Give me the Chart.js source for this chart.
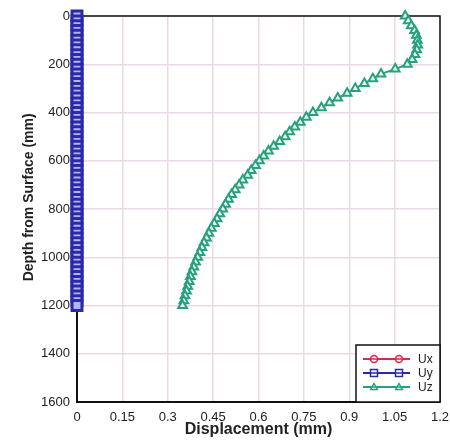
<!DOCTYPE html>
<html><head><meta charset="utf-8">
<script src="https://cdn.jsdelivr.net/npm/chart.js@4/dist/chart.umd.min.js"></script>
<style>html,body{margin:0;padding:0;background:#fff}#wrap{width:450px;height:444px;position:relative}</style>
</head><body><div id="wrap"><canvas id="c" width="450" height="444"></canvas></div>
<script>
const depths = [0,20,40,60,80,100,120,140,160,180,200,220,240,260,280,300,320,340,360,380,400,420,440,460,480,500,520,540,560,580,600,620,640,660,680,700,720,740,760,780,800,820,840,860,880,900,920,940,960,980,1000,1020,1040,1060,1080,1100,1120,1140,1160,1180,1200];
const uxValues = [0,0,0,0,0,0,0,0,0,0,0,0,0,0,0,0,0,0,0,0,0,0,0,0,0,0,0,0,0,0,0,0,0,0,0,0,0,0,0,0,0,0,0,0,0,0,0,0,0,0,0,0,0,0,0,0,0,0,0,0,0];
const uyValues = [0,0,0,0,0,0,0,0,0,0,0,0,0,0,0,0,0,0,0,0,0,0,0,0,0,0,0,0,0,0,0,0,0,0,0,0,0,0,0,0,0,0,0,0,0,0,0,0,0,0,0,0,0,0,0,0,0,0,0,0,0];
const uzValues = [1.085,1.095,1.105,1.116,1.122,1.125,1.126,1.123,1.117,1.108,1.092,1.052,1.005,0.978,0.950,0.920,0.893,0.862,0.835,0.808,0.780,0.758,0.738,0.720,0.703,0.688,0.670,0.650,0.633,0.617,0.603,0.590,0.576,0.564,0.548,0.536,0.523,0.511,0.501,0.491,0.482,0.472,0.463,0.454,0.444,0.436,0.428,0.420,0.413,0.406,0.399,0.392,0.386,0.380,0.375,0.371,0.366,0.362,0.357,0.353,0.349];
const seriesNames = ['Ux','Uy','Uz'];
const xTickValues = [0,0.15,0.3,0.45,0.6,0.75,0.9,1.05,1.2];
const xTickLabels = ['0','0.15','0.3','0.45','0.6','0.75','0.9','1.05','1.2'];
const yTickValues = [0,200,400,600,800,1000,1200,1400,1600];
const yTickLabels = ['0','200','400','600','800','1000','1200','1400','1600'];

const colors = {Ux:'#d42a4c', Uy:'#2a2aa8', Uz:'#27a07e'};
const styles = {Ux:'circle', Uy:'rect', Uz:'triangle'};
const valueSets = {Ux:uxValues, Uy:uyValues, Uz:uzValues};
const orders = {Ux:3, Uy:2, Uz:1};
const radii = {Ux:4, Uy:7, Uz:5};
const pbw = {Ux:1.5, Uy:3, Uz:2};
const fills = {Ux:'#ffffff', Uy:'#b4b4ec', Uz:'rgba(255,255,255,0.85)'};

function pts(vals){ return vals.map((v,i)=>({x:v, y:depths[i]})); }

const datasets = seriesNames.map(n => ({
  label: n,
  data: pts(valueSets[n]),
  showLine: true,
  borderColor: colors[n],
  borderWidth: 2,
  backgroundColor: colors[n],
  pointStyle: styles[n],
  pointRadius: radii[n],
  pointBorderWidth: pbw[n],
  pointBorderColor: colors[n],
  pointBackgroundColor: fills[n],
  order: orders[n],
  clip: false
}));

const frame = {
  id:'frame',
  beforeDatasetsDraw(chart){
    const {ctx, chartArea:a} = chart;
    ctx.save();
    ctx.strokeStyle = '#111'; ctx.lineWidth = 1.5;
    ctx.beginPath();
    ctx.moveTo(a.left, a.top); ctx.lineTo(a.right, a.top); ctx.lineTo(a.right, a.bottom);
    ctx.stroke();
    ctx.restore();
  }
};

function marker(ctx, style, x, y, r, color){
  ctx.save();
  ctx.strokeStyle = color; ctx.fillStyle = '#fff'; ctx.lineWidth = 1.5;
  ctx.beginPath();
  if (style==='circle') ctx.arc(x,y,r,0,Math.PI*2);
  else if (style==='rect') ctx.rect(x-r,y-r,2*r,2*r);
  else { ctx.moveTo(x, y-r); ctx.lineTo(x+r*0.95, y+r*0.7); ctx.lineTo(x-r*0.95, y+r*0.7); ctx.closePath(); }
  ctx.fill(); ctx.stroke();
  ctx.beginPath(); ctx.moveTo(x-r, y); ctx.lineTo(x+r, y); ctx.stroke();
  ctx.restore();
}

const legendBox = {
  id:'legendBox',
  afterDraw(chart){
    const {ctx, chartArea:a} = chart;
    const w = 84, h = 57;
    const x0 = a.right - w, y0 = a.bottom - h;
    ctx.save();
    ctx.fillStyle = '#fff';
    ctx.fillRect(x0, y0, w, h);
    ctx.strokeStyle = '#111'; ctx.lineWidth = 1.5;
    ctx.strokeRect(x0, y0, w, h);
    seriesNames.forEach((n,i) => {
      const y = y0 + 14 + i*14;
      const c = colors[n];
      ctx.strokeStyle = c; ctx.lineWidth = 2;
      ctx.beginPath(); ctx.moveTo(x0+7, y); ctx.lineTo(x0+54, y); ctx.stroke();
      marker(ctx, styles[n], x0+18, y, 3.5, c);
      marker(ctx, styles[n], x0+43, y, 3.5, c);
      ctx.fillStyle = '#222';
      ctx.font = '12px "Liberation Sans", Arial, sans-serif';
      ctx.textBaseline = 'middle'; ctx.textAlign = 'left';
      ctx.fillText(n, x0+62, y+1);
    });
    ctx.restore();
  }
};

new Chart(document.getElementById('c'), {
  type: 'scatter',
  data: { datasets },
  options: {
    responsive: false,
    animation: false,
    devicePixelRatio: 1,
    layout: { padding: { left: 0, right: 10, top: 16, bottom: 0 } },
    plugins: { legend: { display: false }, tooltip: { enabled: false } },
    scales: {
      x: {
        type: 'linear', min: 0, max: 1.2,
        afterBuildTicks: s => { s.ticks = xTickValues.map(v => ({value: v})); },
        afterFit: s => { s.height = 42; s.paddingRight = 0; s.paddingLeft = 0; },
        ticks: {
          callback: (v) => { const i = xTickValues.indexOf(v); return i >= 0 ? xTickLabels[i] : ''; },
          color: '#222', padding: 8, maxRotation: 0, autoSkip: false,
          font: { family: '"Liberation Sans", Arial, sans-serif', size: 13 }
        },
        grid: { color: '#ecd9e6', lineWidth: 1.5, drawTicks: false },
        border: { display: true, color: '#111', width: 2 },
        title: { display: true, text: 'Displacement (mm)', color: '#222', padding: { top: 0, bottom: 5 },
          font: { family: '"Liberation Sans", Arial, sans-serif', size: 16, weight: 'bold' } }
      },
      y: {
        type: 'linear', reverse: true, min: 0, max: 1600,
        afterBuildTicks: s => { s.ticks = yTickValues.map(v => ({value: v})); },
        afterFit: s => { s.width = 77; s.paddingTop = 0; s.paddingBottom = 0; },
        ticks: {
          callback: (v) => { const i = yTickValues.indexOf(v); return i >= 0 ? yTickLabels[i] : ''; },
          color: '#222', padding: 7, autoSkip: false,
          font: { family: '"Liberation Sans", Arial, sans-serif', size: 13 }
        },
        grid: { color: '#ecd9e6', lineWidth: 1.5, drawTicks: false },
        border: { display: true, color: '#111', width: 2 },
        title: { display: true, text: '      Depth from Surface (mm)', color: '#222', padding: { top: 21, bottom: 0 },
          font: { family: '"Liberation Sans", Arial, sans-serif', size: 14, weight: 'bold' } }
      }
    }
  },
  plugins: [frame, legendBox]
});
</script>
</body></html>
